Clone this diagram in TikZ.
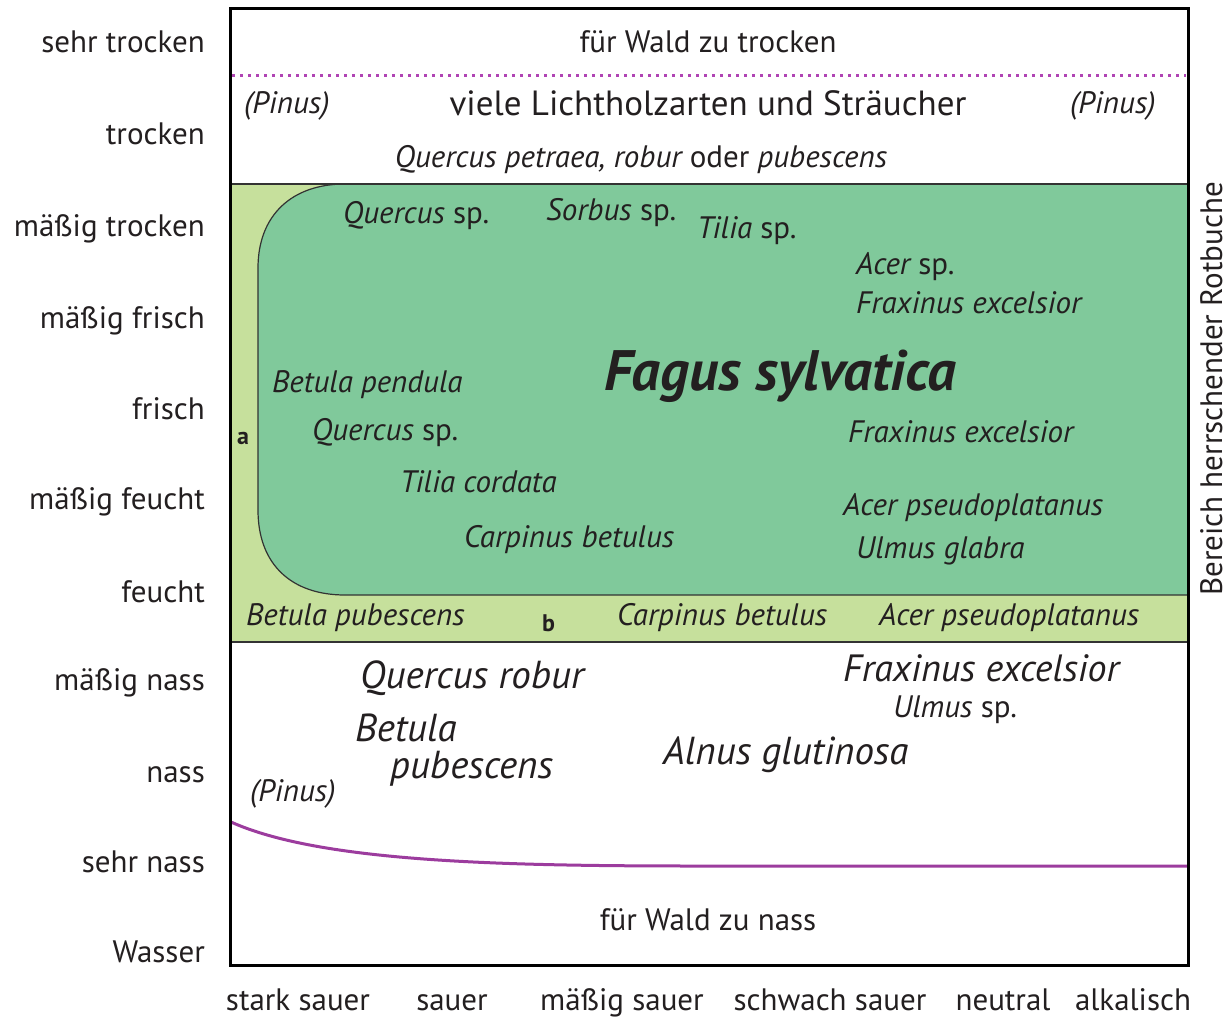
\documentclass[tikz,border=0pt]{standalone}
\usepackage{fontspec}
\usepackage{graphicx}
\setmainfont{PT Sans}
\definecolor{txt}{HTML}{231F20}
\definecolor{lightgreen}{HTML}{C6E09C}
\definecolor{darkgreen}{HTML}{80C99B}
\definecolor{violetline}{HTML}{9C3C9E}
\definecolor{dotline}{HTML}{B044B4}
\definecolor{edge}{HTML}{333333}
\newcommand\fs[1]{\fontsize{#1}{#1}\selectfont}
\tikzset{
  t/.style={inner sep=0pt, text=txt, font=\fs{31}},
  lw/.style={t, anchor=base west},
  lc/.style={t, anchor=base},
  axl/.style={t, anchor=base east, font=\fs{31}},
  axb/.style={t, anchor=base, font=\fs{31}},
}
\begin{document}
\begin{tikzpicture}[x=1pt,y=-1pt]
\useasboundingbox (0,0) rectangle (1230,1017);
\fill[white] (0,0) rectangle (1230,1017);
% green zones
\fill[lightgreen] (230,184) rectangle (1188,642);
\filldraw[fill=darkgreen, draw=edge, line width=1.2pt]
  (1188,595) -- (345,595) .. controls (292,595) and (258,565) .. (258,510)
  -- (258,268) .. controls (258,215) and (292,184) .. (345,184) -- (1188,184);
\draw[edge, line width=1.5pt] (230,184) -- (1188,184);
\draw[edge, line width=1.5pt] (230,642) -- (1188,642);
% lines
\draw[dotline, line width=3pt, dash pattern=on 3pt off 5pt] (232,75) -- (1186,75);
\draw[violetline, line width=3pt] (231,822) .. controls (320,862) and (500,866) .. (700,866) -- (1187,866);
% frame
\draw[black, line width=3pt] (230,8) rectangle (1188,965);

% top white zone
\node[lc] (zutrocken) at (708,52) {\fs{31}für Wald zu trocken};
\node[lc] (licht) at (708,115) {\fs{35}viele Lichtholzarten und Sträucher};
\node[lw] (pinusA) at (244,113) {\itshape (Pinus)};
\node[lw] (pinusB) at (1070,113) {\itshape (Pinus)};
\node[lc] (qpetraea) at (641,167) {\itshape Quercus petraea, robur \upshape oder \itshape pubescens};

% beech zone
\node[lw] (quercusA) at (343,223) {\itshape Quercus \upshape sp.};
\node[lw] (sorbus) at (546,220) {\itshape Sorbus \upshape sp.};
\node[lw] (tiliaA) at (697,238) {\itshape Tilia \upshape sp.};
\node[lw] (acerA) at (856,274) {\itshape Acer \upshape sp.};
\node[lw] (fraxA) at (856,313) {\itshape Fraxinus excelsior};
\node[lc] (fagus) at (780,390) {\fs{57}\bfseries\itshape Fagus sylvatica};
\node[lw] (betpend) at (272,392) {\itshape Betula pendula};
\node[lw] (labela) at (237,444) {\fs{24}\bfseries a};
\node[lw] (quercusB) at (312,440) {\itshape Quercus \upshape sp.};
\node[lw] (fraxB) at (848,442) {\itshape Fraxinus excelsior};
\node[lw] (tiliacord) at (400,492) {\itshape Tilia cordata};
\node[lw] (acerpsA) at (843,515) {\itshape Acer pseudoplatanus};
\node[lw] (carpA) at (464,547) {\itshape Carpinus betulus};
\node[lw] (ulmusgl) at (856,558) {\itshape Ulmus glabra};
% band b
\node[lw] (betpubA) at (246,625) {\itshape Betula pubescens};
\node[lw] (labelb) at (542,631) {\fs{24}\bfseries b};
\node[lw] (carpB) at (617,625) {\itshape Carpinus betulus};
\node[lw] (acerpsB) at (879,625) {\itshape Acer pseudoplatanus};

% wet zone
\node[lw] (qrobur) at (360,688) {\fs{39}\itshape Quercus robur};
\node[lw] (fraxC) at (843,681) {\fs{38}\itshape Fraxinus excelsior};
\node[lw] (ulmussp) at (893,717) {\itshape Ulmus \upshape sp.};
\node[lw] (betpubB1) at (355,741) {\fs{39}\itshape Betula};
\node[lw] (betpubB2) at (390,778) {\fs{39}\itshape pubescens};
\node[lw] (alnus) at (663,764) {\fs{39}\itshape Alnus glutinosa};
\node[lw] (pinusC) at (250,801) {\itshape (Pinus)};
\node[lc] (zunass) at (708,930) {\fs{31}für Wald zu nass};

% left axis
\node[axl] (m1) at (205,52) {sehr trocken};
\node[axl] (m2) at (205,144) {trocken};
\node[axl] (m3) at (205,236) {mäßig trocken};
\node[axl] (m4) at (205,328) {mäßig frisch};
\node[axl] (m5) at (205,419) {frisch};
\node[axl] (m6) at (205,509) {mäßig feucht};
\node[axl] (m7) at (205,602) {feucht};
\node[axl] (m8) at (205,690) {mäßig nass};
\node[axl] (m9) at (205,782) {nass};
\node[axl] (m10) at (205,872) {sehr nass};
\node[axl] (m11) at (205,962) {Wasser};

% bottom axis
\node[axb] (p1) at (298,1010) {stark sauer};
\node[axb] (p2) at (452,1010) {sauer};
\node[axb] (p3) at (622,1010) {mäßig sauer};
\node[axb] (p4) at (830,1010) {schwach sauer};
\node[axb] (p5) at (1003,1010) {neutral};
\node[axb] (p6) at (1133,1010) {alkalisch};

% right label
\node[t, font=\fs{31}, rotate=90, anchor=base] (rotbuche) at (1222,389) {Bereich herrschender Rotbuche};
\end{tikzpicture}
\end{document}
